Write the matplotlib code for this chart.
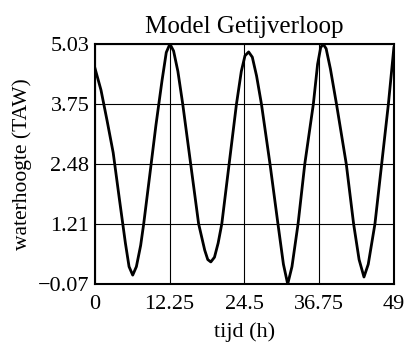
import matplotlib
matplotlib.use("Agg")
import matplotlib.pyplot as plt

# tide readings: time (h) and water height (TAW)
tijd = [0, 1, 2, 3, 4, 5, 5.6, 6.2, 6.8, 7.5, 8, 9, 10, 11, 11.7, 12.3, 12.9,
        13.6, 14.4, 15.7, 17.0, 18.0, 18.5, 19.0, 19.6, 20.2, 20.8, 22.0,
        23.2, 24.0, 24.6, 25.2, 25.8, 26.5, 27.3, 28.7, 30.0, 30.9, 31.6,
        32.3, 33.3, 34.4, 35.8, 36.5, 37.0, 37.4, 37.9, 38.6, 39.6, 41.2,
        42.4, 43.3, 44.1, 44.8, 45.9, 47.0, 48.1, 49]
hoogte = [4.52, 4.05, 3.40, 2.72, 1.75, 0.80, 0.30, 0.12, 0.30, 0.75, 1.21,
          2.25, 3.30, 4.25, 4.85, 5.03, 4.88, 4.45, 3.75, 2.48, 1.21, 0.65,
          0.45, 0.40, 0.50, 0.80, 1.21, 2.48, 3.75, 4.45, 4.78, 4.86, 4.75,
          4.35, 3.75, 2.48, 1.21, 0.35, -0.07, 0.30, 1.21, 2.48, 3.75, 4.60,
          4.95, 5.03, 4.93, 4.50, 3.75, 2.48, 1.21, 0.45, 0.08, 0.35, 1.21,
          2.48, 3.75, 4.95]

x_ticks = [0, 12.25, 24.5, 36.75, 49]
x_labels = ["0", "12.25", "24.5", "36.75", "49"]
y_ticks = [-0.07, 1.21, 2.48, 3.75, 5.03]
y_labels = ["\u22120.07", "1.21", "2.48", "3.75", "5.03"]

plt.rcParams['font.family'] = ['Liberation Serif', 'DejaVu Serif']

fig = plt.figure(figsize=(4.09, 3.46), dpi=100)
ax = fig.add_axes([0.232, 0.179, 0.731, 0.694])

ax.plot(tijd, hoogte, color='black', linewidth=2.0, clip_on=True)

ax.set_xlim(0, 49)
ax.set_ylim(-0.07, 5.03)
ax.set_xticks(x_ticks, labels=x_labels, fontsize=16)
ax.set_yticks(y_ticks, labels=y_labels, fontsize=16)
ax.tick_params(length=0, pad=4)
ax.tick_params(axis='x', pad=8)

ax.grid(color='black', linewidth=0.8)
for s in ax.spines.values():
    s.set_linewidth(1.5)
    s.set_color('black')

ax.set_title("Model Getijverloop", fontsize=18, pad=8)
ax.set_xlabel("tijd (h)", fontsize=16, labelpad=6)
ax.set_ylabel("waterhoogte (TAW)", fontsize=15.5, labelpad=4)

fig.savefig("out.png", dpi=100)
